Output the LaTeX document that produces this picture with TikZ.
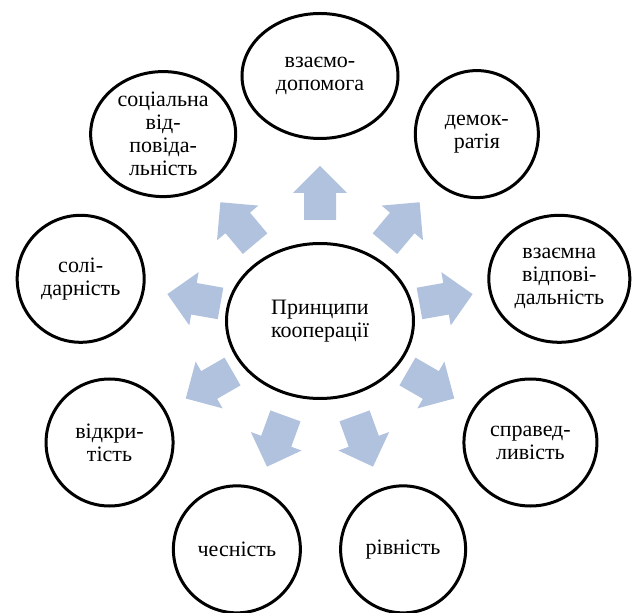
\documentclass[tikz,border=0pt]{standalone}
\usepackage{fontspec}
\setmainfont{Liberation Serif}
\usetikzlibrary{shapes.geometric}
\definecolor{arrowblue}{RGB}{177,194,222}
\tikzstyle{principle} = [ellipse, draw=black, line width=3pt, minimum width=127pt, minimum height=127pt, inner sep=0pt, align=center, font=\rmfamily\fontsize{22}{23}\selectfont]
\tikzstyle{core} = [principle, minimum width=187pt, minimum height=155pt]
\tikzstyle{blockarrow} = [fill=arrowblue]

\begin{document}
\begin{tikzpicture}[x=1pt, y=1pt]
	\useasboundingbox (-320,-291) rectangle (316,321);
	\node (core) [core] at (0,0) {Принципи\\кооперації};

	% outer principles, every 40 degrees
	\node (help) [principle, minimum width=156pt, minimum height=125pt] at (90:245) {взаємо-\\допомога};
	\node (democ) [principle, minimum width=123pt] at (50:244) {демок-\\ратія};
	\node (mutual) [principle, minimum width=141pt] at (10:243) {взаємна\\відпові-\\дальність};
	\node (justice) [principle, minimum width=133pt] at (-30:243) {справед-\\ливість};
	\node (equal) [principle, minimum width=125pt] at (-70:243) {рівність};
	\node (honest) [principle] at (-110:243) {чесність};
	\node (open) [principle] at (-150:243) {відкри-\\тість};
	\node (solid) [principle] at (170:243) {солі-\\дарність};
	\node (social) [principle, minimum width=145pt, minimum height=125pt] at (130:244) {соціальна\\від-\\повіда-\\льність};

	% block arrows from the core
	\foreach \a in {90,50,...,-230}
		\fill [blockarrow, rotate=\a] (101,-16) -- (128,-16) -- (128,-27) -- (155,0) -- (128,27) -- (128,16) -- (101,16) -- cycle;
\end{tikzpicture}
\end{document}
